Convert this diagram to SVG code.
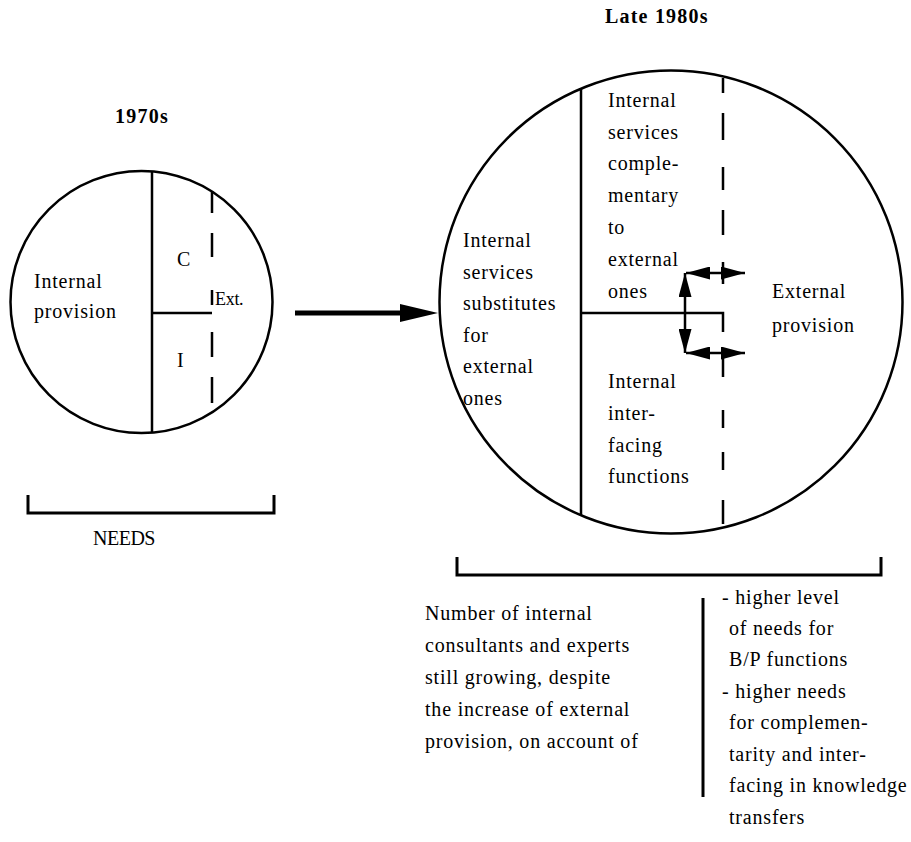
<svg xmlns="http://www.w3.org/2000/svg" width="911" height="842" viewBox="0 0 911 842">
<defs>
<style>
text{font-family:"Liberation Serif","Times New Roman",serif;fill:#000}
.t{font-size:20px;letter-spacing:0.8px}
.b{font-size:20px;font-weight:bold;letter-spacing:1.2px}
.ln{stroke:#000;stroke-width:2.5;fill:none}
.br{stroke:#000;stroke-width:3;fill:none}
.dl{stroke:#000;stroke-width:2.5;fill:none}
</style>
<marker id="ah" viewBox="0 0 24 13" refX="24" refY="6.5" markerWidth="24" markerHeight="13" markerUnits="userSpaceOnUse" orient="auto-start-reverse">
<path d="M0,0 L24,6.5 L0,13 z" fill="#000"/>
</marker>
</defs>
<rect width="911" height="842" fill="#fff"/>

<g id="title-1970s"><text class="b" x="142" y="123" text-anchor="middle">1970s</text></g>
<g id="title-late1980s"><text class="b" x="605" y="23">Late 1980s</text></g>

<g id="circle-1970s">
<circle class="ln" cx="141.5" cy="302" r="131"/>
<line class="ln" x1="152" y1="171.5" x2="152" y2="432.5"/>
<line class="ln" x1="152" y1="313" x2="212" y2="313"/>
<path class="dl" d="M212,192V213 M212,233V257 M212,290V305 M212,332V357 M212,377V403"/>
<text class="t" x="34" y="288">Internal</text>
<text class="t" x="34" y="318">provision</text>
<text class="t" x="177" y="266">C</text>
<text class="t" x="177" y="367">I</text>
<text x="215" y="305" style="font-size:18px;letter-spacing:-0.3px">Ext.</text>
</g>

<g id="needs-bracket">
<path class="br" d="M28,495V513H274V495"/>
<text class="t" x="93" y="545" style="letter-spacing:-0.5px">NEEDS</text>
</g>

<g id="circle-late1980s">
<circle class="ln" cx="671" cy="302" r="231.5"/>
<line class="ln" x1="581" y1="89" x2="581" y2="515"/>
<path class="ln" d="M581,313H723V332"/>
<path class="dl" d="M723,78V93 M723,113V140 M723,167V190 M723,210V235 M723,262V284 M723,348V377 M723,410V428 M723,452V470 M723,500V524"/>
<text class="t" x="463" y="247">Internal</text>
<text class="t" x="463" y="279">services</text>
<text class="t" x="463" y="310">substitutes</text>
<text class="t" x="463" y="342">for</text>
<text class="t" x="463" y="373">external</text>
<text class="t" x="463" y="405">ones</text>
<text class="t" x="608" y="107">Internal</text>
<text class="t" x="608" y="139">services</text>
<text class="t" x="608" y="170">comple-</text>
<text class="t" x="608" y="202">mentary</text>
<text class="t" x="608" y="234">to</text>
<text class="t" x="608" y="266">external</text>
<text class="t" x="608" y="298">ones</text>
<text class="t" x="608" y="388">Internal</text>
<text class="t" x="608" y="420">inter-</text>
<text class="t" x="608" y="452">facing</text>
<text class="t" x="608" y="483">functions</text>
<text class="t" x="772" y="298">External</text>
<text class="t" x="772" y="332">provision</text>
</g>

<g id="connectors">
<line x1="295" y1="313" x2="401" y2="313" stroke="#000" stroke-width="5"/>
<polygon points="400,304 438,313 400,322" fill="#000"/>
<line x1="686" y1="273" x2="745" y2="273" stroke="#000" stroke-width="2.5" marker-start="url(#ah)" marker-end="url(#ah)"/>
<line x1="686" y1="353" x2="745" y2="353" stroke="#000" stroke-width="2.5" marker-start="url(#ah)" marker-end="url(#ah)"/>
<line x1="685" y1="273" x2="685" y2="353" stroke="#000" stroke-width="2.5" marker-start="url(#ah)" marker-end="url(#ah)"/>
</g>

<g id="late-bracket">
<path class="br" d="M457,557V575H881V557"/>
</g>

<g id="note-left">
<text class="t" x="425" y="620">Number of internal</text>
<text class="t" x="425" y="652">consultants and experts</text>
<text class="t" x="425" y="684">still growing, despite</text>
<text class="t" x="425" y="716">the increase of external</text>
<text class="t" x="425" y="748">provision, on account of</text>
</g>

<g id="note-right">
<line x1="703" y1="598" x2="703" y2="797" stroke="#000" stroke-width="3"/>
<text class="t" x="722" y="604">- higher level</text>
<text class="t" x="729" y="635">of needs for</text>
<text class="t" x="729" y="666">B/P functions</text>
<text class="t" x="722" y="698">- higher needs</text>
<text class="t" x="729" y="729">for complemen-</text>
<text class="t" x="729" y="761">tarity and inter-</text>
<text class="t" x="729" y="792">facing in knowledge</text>
<text class="t" x="729" y="824">transfers</text>
</g>
</svg>
